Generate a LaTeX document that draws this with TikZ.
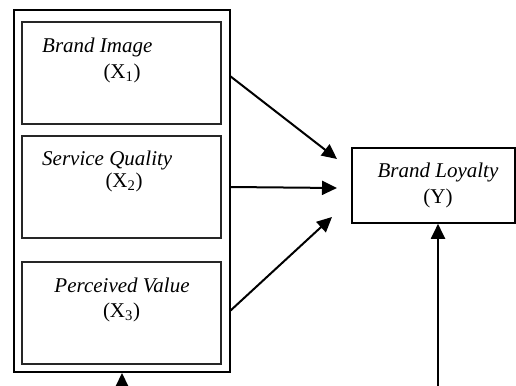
\documentclass[tikz,border=0pt]{standalone}
\usepackage{fontspec}
\setmainfont{Liberation Serif}
\usetikzlibrary{arrows.meta}
\begin{document}
\begin{tikzpicture}[x=1pt,y=-1pt,
  inbox/.style={draw=black!85,line width=1.6pt},
  outbox/.style={draw=black,line width=2pt},
  lbl/.style={font=\fontsize{21}{23}\selectfont\itshape,inner sep=0pt},
  sym/.style={font=\fontsize{21}{23}\selectfont,inner sep=0pt},
  arr/.style={line width=2pt,-{Triangle[length=15pt,width=14pt]}}]
\useasboundingbox (0,0) rectangle (516,385);
\fill[white] (0,0) rectangle (516,385);
% outer frame
\node[outbox,minimum width=216pt,minimum height=362pt,inner sep=0pt] (outer) at (122,191) {};
% inner boxes
\node[inbox,minimum width=199pt,minimum height=102pt,inner sep=0pt] (b1) at (121.5,73) {};
\node[inbox,minimum width=199pt,minimum height=102pt,inner sep=0pt] (b2) at (121.5,187) {};
\node[inbox,minimum width=199pt,minimum height=102pt,inner sep=0pt] (b3) at (121.5,313) {};
\node[lbl,anchor=west] (t1) at (42,47) {Brand Image};
\node[sym] (x1) at (122,73) {(X\textsubscript{1})};
\node[lbl,anchor=west] (t2) at (42,160) {Service Quality};
\node[sym] (x2) at (124,182) {(X\textsubscript{2})};
\node[lbl] (t3) at (122,285) {Perceived Value};
\node[sym] (x3) at (121.5,312) {(X\textsubscript{3})};
% Y box
\node[draw,line width=1.6pt,minimum width=163pt,minimum height=75pt,inner sep=0pt] (y) at (433.5,185.5) {};
\node[lbl] (ty) at (438,172) {Brand Loyalty};
\node[sym] (yy) at (438,198) {(Y)};
% arrows
\coordinate (s1) at (230,76);
\coordinate (e1) at (337,159);
\coordinate (s2) at (230,187);
\coordinate (e2) at (337,188);
\coordinate (s3) at (230,311);
\coordinate (e3) at (332,217);
\coordinate (bl) at (122,392);
\coordinate (br) at (438,392);
\draw[arr] (s1) -- (e1);
\draw[arr] (s2) -- (e2);
\draw[arr] (s3) -- (e3);
\draw[arr] (bl) -- (outer.south);
\draw[arr] (br) -- (y.south -| br);
\end{tikzpicture}
\end{document}
